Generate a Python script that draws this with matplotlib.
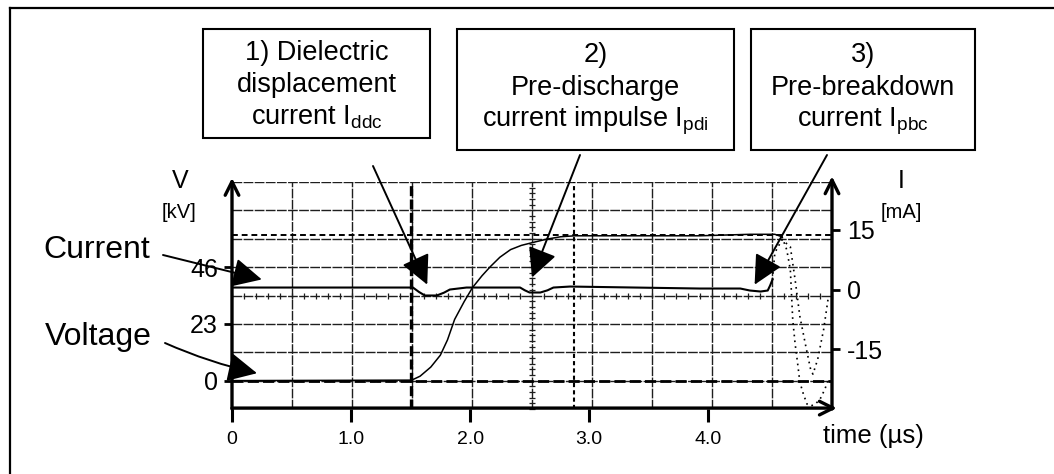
import matplotlib
matplotlib.use("Agg")
import matplotlib.pyplot as plt
from matplotlib.patches import Rectangle
from matplotlib.lines import Line2D

plt.rcParams["font.family"] = ["Liberation Sans", "DejaVu Sans"]
plt.rcParams["mathtext.fontset"] = "custom"
plt.rcParams["mathtext.rm"] = "Liberation Sans"
plt.rcParams["mathtext.it"] = "Liberation Sans"

# voltage trace (solid part), time in us, kV
volt_t = [0.0, 1.51, 1.58, 1.67, 1.75, 1.81, 1.87, 1.95, 2.02, 2.10, 2.17,
          2.25, 2.34, 2.43, 2.52, 2.64, 2.76, 2.88, 3.26, 3.93, 4.35, 4.56, 4.62]
volt_kv = [0.0, 0.2, 1.8, 5.5, 10.3, 16.5, 24.8, 32.0, 37.7, 42.5, 46.2,
           50.0, 53.1, 54.8, 55.9, 57.3, 58.3, 58.7, 58.7, 58.7, 59.3, 59.3, 58.3]
# voltage collapse at breakdown (dotted)
volt_drop_t = [4.62, 4.66, 4.69, 4.71, 4.73, 4.75, 4.77, 4.80, 4.83, 4.86, 4.90, 4.94, 4.98, 5.01]
volt_drop_kv = [58.3, 53.0, 45.0, 24.8, 15.0, 7.5, -0.6, -5.5, -9.5, -10.3, -9.5, -7.5, -3.5, 0.6]

# current trace (solid part), mA
curr_t = [0.0, 1.52, 1.57, 1.62, 1.72, 1.78, 1.83, 1.97, 2.42, 2.46, 2.50,
          2.59, 2.65, 2.70, 2.84, 3.93, 4.27, 4.35, 4.44, 4.50, 4.52, 4.54]
curr_ma = [0.5, 0.5, -0.6, -1.5, -1.5, -0.8, 0.0, 0.5, 0.5, -0.2, -0.75,
           -0.75, -0.2, 0.5, 0.75, 0.25, 0.25, -0.25, -0.5, -0.25, 1.0, 2.5]
# current ringing after breakdown (dotted)
curr_ring_t = [4.54, 4.56, 4.62, 4.69, 4.73, 4.77, 4.82, 4.86, 4.88, 4.92, 4.97, 5.01]
curr_ring_ma = [2.5, 9.25, 12.5, 10.75, 2.5, -6.75, -14.25, -20.0, -21.25, -17.5, -10.0, -1.75]

time_ticks = [0, 1, 2, 3, 4]
time_labels = ["0", "1.0", "2.0", "3.0", "4.0"]
v_ticks = [0, 23, 46]
i_ticks = [-15, 0, 15]

cursor_t = [1.5, 2.87]
v_cursor = 59.1

T_MAX = 5.04
V_LIM = (-11.5, 80.5)
I_LIM = (-30.0, 27.0)

W, H = 1054, 474


def fp(x, y):
    return x / W, 1 - y / H


fig = plt.figure(figsize=(W / 100, H / 100), dpi=100)
ax = fig.add_axes([232 / W, 1 - 409 / H, 600 / W, 227 / H])
ax2 = ax.twinx()

ax.set_xlim(0, T_MAX)
ax.set_ylim(*V_LIM)
ax2.set_ylim(*I_LIM)
for a in (ax, ax2):
    for s in a.spines.values():
        s.set_visible(False)
    a.patch.set_visible(False)

# oscilloscope graticule
grid_kw = dict(color="#1e1e1e", lw=1.0, ls=(0, (7, 1)), zorder=1)
for i in range(1, 10):
    ax.axvline(T_MAX * i / 10, **grid_kw)
for i in range(1, 8):
    ax.axhline(V_LIM[0] + (V_LIM[1] - V_LIM[0]) * i / 8, **grid_kw)
ax.axhline(V_LIM[1], **grid_kw)
hx = [k / 50 for k in range(51)]
ax.plot(hx, [0.5] * len(hx), ls="", marker="|", ms=5, mew=0.9, color="#1e1e1e",
        transform=ax.transAxes, clip_on=False, zorder=1)
vy = [k / 40 for k in range(41)]
ax.plot([0.5] * len(vy), vy, ls="", marker="_", ms=5, mew=0.9, color="#1e1e1e",
        transform=ax.transAxes, clip_on=False, zorder=1)

# cursors
ax.axvline(cursor_t[0], color="k", lw=2.4, ls=(0, (3, 1)), zorder=2)
ax.axvline(cursor_t[1], color="k", lw=1.5, ls=(0, (2, 1.5)), zorder=2)
ax.axhline(v_cursor, color="k", lw=1.4, ls=(0, (3, 2)), zorder=2)
ax.axhline(0, color="k", lw=2.0, ls=(0, (4, 1.5)), zorder=2)

# traces
ax.plot(volt_t, volt_kv, color="k", lw=1.1, zorder=3)
ax.plot(volt_drop_t, volt_drop_kv, color="k", lw=1.2, ls=(0, (1, 2.5)), zorder=3)
ax2.plot(curr_t, curr_ma, color="k", lw=1.5, zorder=3)
ax2.plot(curr_ring_t, curr_ring_ma, color="k", lw=1.2, ls=(0, (1, 2.5)), zorder=3)

# ticks
ax.set_xticks(time_ticks)
ax.set_xticklabels(time_labels)
ax.set_yticks(v_ticks)
ax.set_yticklabels([str(v) for v in v_ticks])
ax2.set_yticks(i_ticks)
ax2.set_yticklabels([str(v) for v in i_ticks])
ax.tick_params(axis="x", length=9, width=2.2, pad=7, labelsize=14)
ax.tick_params(axis="y", length=6, width=2, pad=4, labelsize=18)
ax2.tick_params(axis="y", length=6, width=2, pad=5, labelsize=18)

# axes drawn as arrows
ax_arrow = dict(arrowstyle="->,head_length=0.7,head_width=0.35", lw=2.4, color="k",
                mutation_scale=14, shrinkA=0, shrinkB=0)
ax.annotate("", xy=(0, 1.018), xytext=(0, 0), xycoords="axes fraction",
            arrowprops=ax_arrow, annotation_clip=False)
ax.annotate("", xy=(1, 1.025), xytext=(1, 0), xycoords="axes fraction",
            arrowprops=ax_arrow, annotation_clip=False)
ax.annotate("", xy=(1.008, 0.004), xytext=(0, 0.004), xycoords="axes fraction",
            arrowprops=ax_arrow, annotation_clip=False)

# axis labels
fig.text(*fp(180, 181), "V", fontsize=18, ha="center", va="center")
fig.text(*fp(179, 213), "[kV]", fontsize=14.5, ha="center", va="center")
fig.text(*fp(901, 181), "I", fontsize=18, ha="center", va="center")
fig.text(*fp(901, 212), "[mA]", fontsize=14.5, ha="center", va="center")
fig.text(*fp(873, 436), "time (µs)", fontsize=18.5, ha="center", va="center")

# trace labels with arrows
lab_arrow = dict(arrowstyle="-|>,head_length=1.2,head_width=0.6", lw=1.4, color="k",
                 mutation_scale=15, shrinkA=0, shrinkB=0)
fig.text(*fp(97, 250), "Current", fontsize=23, ha="center", va="center")
fig.text(*fp(98, 337), "Voltage", fontsize=23, ha="center", va="center")
ax.annotate("", xy=(0.25, 41.0), xycoords="data", xytext=fp(163, 255),
            textcoords="figure fraction", arrowprops=lab_arrow, annotation_clip=False)
ax.annotate("", xy=(0.21, 3.0), xycoords="data", xytext=fp(165, 343),
            textcoords="figure fraction", annotation_clip=False,
            arrowprops=dict(lab_arrow, connectionstyle="arc3,rad=0.05"))

# callout boxes
boxes = [
    ((203, 29, 430, 138), ["1) Dielectric", "displacement", r"current I$_{\mathrm{ddc}}$"],
     [53, 85, 117], (373, 166), (1.64, 38.9)),
    ((457, 29, 734, 150), ["2)", "Pre-discharge", r"current impulse I$_{\mathrm{pdi}}$"],
     [55, 88, 121], (580, 155), (2.52, 41.8)),
    ((751, 29, 975, 150), ["3)", "Pre-breakdown", r"current I$_{\mathrm{pbc}}$"],
     [55, 88, 121], (827, 155), (4.39, 38.9)),
]
for (x0, y0, x1, y1), lines, ys, start, tip in boxes:
    fig.add_artist(Rectangle(fp(x0, y1), (x1 - x0) / W, (y1 - y0) / H, fill=False,
                             lw=1.5, edgecolor="k", transform=fig.transFigure))
    for line, yy in zip(lines, ys):
        fig.text(*fp((x0 + x1) / 2, yy), line, fontsize=19.5, ha="center", va="center")
    ax.annotate("", xy=tip, xycoords="data", xytext=fp(*start),
                textcoords="figure fraction", arrowprops=lab_arrow,
                annotation_clip=False)

# outer frame (left and top edges visible)
fig.add_artist(Line2D([10 / W, 10 / W], [0, 1 - 8 / H], color="k", lw=1.6,
                      transform=fig.transFigure))
fig.add_artist(Line2D([10 / W, 1], [1 - 8 / H, 1 - 8 / H], color="k", lw=1.6,
                      transform=fig.transFigure))

fig.savefig("out.png", dpi=100)
